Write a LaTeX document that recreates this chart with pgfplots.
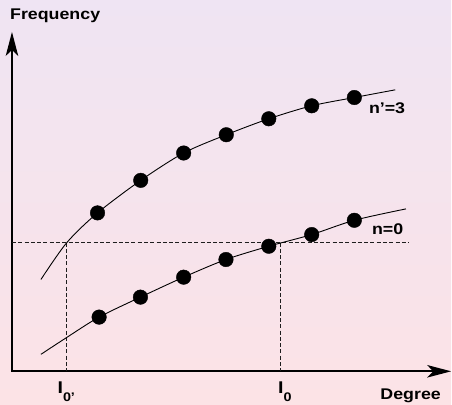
\documentclass[border=0pt]{standalone}
\usepackage{fontspec}
\setmainfont{Liberation Sans}[FakeStretch=1.15]
\usepackage{pgfplots}
\pgfplotsset{compat=1.18}
\usetikzlibrary{arrows.meta}
\definecolor{bgtop}{RGB}{239,228,243}
\definecolor{bgbot}{RGB}{252,227,230}
\definecolor{dashc}{RGB}{30,30,30}
\tikzset{bigarrows/.style={arrows={Stealth[length=24pt,width=12.5pt,inset=6pt]-Stealth[length=24pt,width=12.5pt,inset=6pt]}}}
\begin{document}
\begin{tikzpicture}
\begin{axis}[
  set layers,
  scale only axis, width=440pt, height=340pt,
  xmin=12, xmax=452, ymin=33, ymax=373,
  axis lines=none,
  xtick=\empty, ytick=\empty,
  clip=false,
]
\begin{pgfonlayer}{axis background}
\fill[top color=bgtop, bottom color=bgbot, draw=none] (axis cs:0,0) rectangle (axis cs:452,405);
\end{pgfonlayer}
% axes with arrows
\draw[black, line width=1.7pt, line join=miter, bigarrows] (axis cs:12,373) -- (axis cs:12,33) -- (axis cs:452,33);
% dashed guide lines
\addplot[dashc, line width=1.2pt, dash pattern=on 4pt off 2.3pt] coordinates {(12,162) (410,162)};
\addplot[dashc, line width=1.2pt, dash pattern=on 4pt off 2.3pt] coordinates {(67,162) (67,33)};
\addplot[dashc, line width=1.2pt, dash pattern=on 4pt off 2.3pt] coordinates {(281,162) (281,33)};
% n'=3 curve
\addplot[black, line width=0.9pt, smooth, tension=0.5] coordinates {
 (41,125) (67,162) (97.7,191.7) (141,224.3) (184,251.7) (226.7,270) (269.3,286) (312.3,299) (355,307.3) (396,315)};
\addplot[only marks, mark=*, mark size=7.3pt, black] coordinates {
 (97.7,191.7) (141,224.3) (184,251.7) (226.7,270) (269.3,286) (312.3,299) (355,307.3)};
% n=0 curve
\addplot[black, line width=0.9pt, smooth, tension=0.5] coordinates {
 (41,50) (67,67) (99.3,87.3) (140.7,107.3) (184,127.3) (226.4,145) (269.3,158.3) (312.3,170) (355,184.3) (406.7,195.7)};
\addplot[only marks, mark=*, mark size=7.3pt, black] coordinates {
 (99.3,87.3) (140.7,107.3) (184,127.3) (226.4,145) (269.3,158.3) (312.3,170) (355,184.3)};
% texts
\node[anchor=base west, inner sep=0pt, font=\bfseries\fontsize{15.5}{16}\selectfont] at (axis cs:10,385) {Frequency};
\node[anchor=base west, inner sep=0pt, font=\bfseries\fontsize{15.5}{16}\selectfont] at (axis cs:381,4.3) {Degree};
\node[anchor=base west, inner sep=0pt, font=\bfseries\fontsize{15.5}{16}\selectfont] at (axis cs:369.5,291) {n’=3};
\node[anchor=base west, inner sep=0pt, font=\bfseries\fontsize{15.5}{16}\selectfont] at (axis cs:372.5,170) {n=0};
\node[anchor=base west, inner sep=0pt, font=\bfseries] at (axis cs:57.5,10.5) {\fontsize{17}{17}\selectfont I\raisebox{-7.5pt}{\fontsize{12.5}{12.5}\selectfont 0’}};
\node[anchor=base west, inner sep=0pt, font=\bfseries] at (axis cs:278.5,10.5) {\fontsize{17}{17}\selectfont I\raisebox{-7.5pt}{\fontsize{12.5}{12.5}\selectfont 0}};
\end{axis}
\end{tikzpicture}
\end{document}
